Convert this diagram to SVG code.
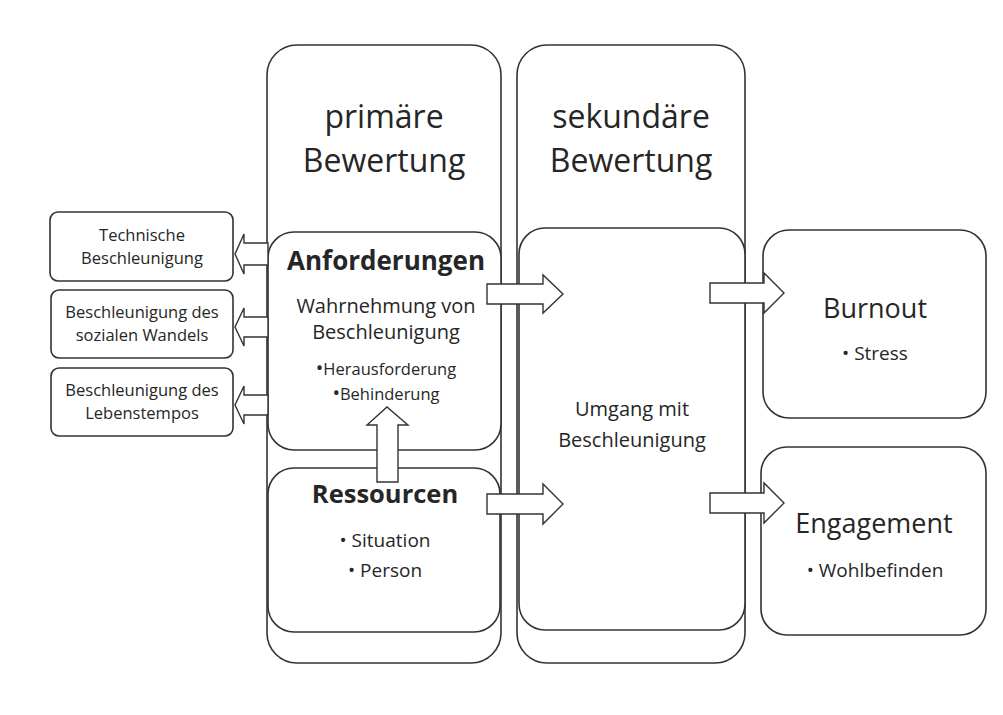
<svg xmlns="http://www.w3.org/2000/svg" width="1003" height="715" viewBox="0 0 1003 715">
<style>
  .box{fill:#ffffff;stroke:#333333;stroke-width:1.6}
  .frame{fill:none;stroke:#333333;stroke-width:1.6}
  .arr{fill:#ffffff;stroke:#333333;stroke-width:1.4;stroke-linejoin:miter}
  text{font-family:"Open Sans","Noto Sans","Liberation Sans",sans-serif;fill:#262626;text-anchor:middle}
  .big{font-size:32px}
  .bold{font-weight:bold}
  .mid{font-size:20px}
  .small{font-size:16.5px}
</style>
<rect width="1003" height="715" fill="#ffffff"/>

<g id="primaere-bewertung">
  <rect class="frame" x="267" y="45" width="234" height="618" rx="30"/>
  <text class="big" x="384" y="128">primäre</text>
  <text class="big" x="384" y="172">Bewertung</text>
</g>
<g id="sekundaere-bewertung">
  <rect class="frame" x="517" y="45" width="228" height="618" rx="30"/>
  <text class="big" x="631" y="128">sekundäre</text>
  <text class="big" x="631" y="172">Bewertung</text>
</g>

<g id="anforderungen">
  <rect class="box" x="268" y="232" width="233" height="218" rx="26"/>
  <text class="bold" style="font-size:26px" x="386" y="270">Anforderungen</text>
  <text class="mid" x="386" y="313">Wahrnehmung von</text>
  <text class="mid" x="386" y="339">Beschleunigung</text>
  <text style="font-size:16.5px" x="386" y="375"><tspan style="font-size:20px">•</tspan>Herausforderung</text>
  <text style="font-size:16.5px" x="386" y="400"><tspan style="font-size:20px">•</tspan>Behinderung</text>
</g>

<g id="ressourcen">
  <rect class="box" x="268" y="468" width="232" height="164" rx="26"/>
  <text class="bold" style="font-size:25.5px" x="385" y="503">Ressourcen</text>
  <text style="font-size:19px" x="385" y="547">• Situation</text>
  <text style="font-size:19px" x="385" y="577">• Person</text>
</g>

<g id="umgang">
  <rect class="box" x="519" y="228" width="226" height="402" rx="26"/>
  <text class="mid" x="632" y="416">Umgang mit</text>
  <text class="mid" x="632" y="447">Beschleunigung</text>
</g>

<g id="burnout">
  <rect class="box" x="763" y="230" width="223" height="188" rx="26"/>
  <text style="font-size:27px" x="875" y="318">Burnout</text>
  <text style="font-size:19px" x="875" y="360">• Stress</text>
</g>

<g id="engagement">
  <rect class="box" x="761" y="447" width="225" height="188" rx="26"/>
  <text style="font-size:27px" x="874" y="533">Engagement</text>
  <text style="font-size:19px" x="875" y="577">• Wohlbefinden</text>
</g>

<g id="technische">
  <rect class="box" x="50" y="212" width="183" height="69" rx="8"/>
  <text class="small" x="142" y="241">Technische</text>
  <text class="small" x="142" y="264">Beschleunigung</text>
</g>
<g id="sozialer-wandel">
  <rect class="box" x="51" y="290" width="182" height="68" rx="8"/>
  <text class="small" x="142" y="318">Beschleunigung des</text>
  <text class="small" x="142" y="341">sozialen Wandels</text>
</g>
<g id="lebenstempo">
  <rect class="box" x="51" y="368" width="182" height="68" rx="8"/>
  <text class="small" x="142" y="396">Beschleunigung des</text>
  <text class="small" x="142" y="419">Lebenstempos</text>
</g>

<g id="connectors">
  <!-- left arrows -->
  <polygon class="arr" points="268,243 244,243 244,234 235,254 244,274 244,265 268,265"/>
  <polygon class="arr" points="268,317 244,317 244,308 235,327 244,346 244,337 268,337"/>
  <polygon class="arr" points="268,395 244,395 244,386 235,405 244,424 244,415 268,415"/>
  <!-- right arrows -->
  <polygon class="arr" points="487,284 543,284 543,275 563,294 543,313 543,304 487,304"/>
  <polygon class="arr" points="487,494 543,494 543,484 563,504 543,524 543,514 487,514"/>
  <polygon class="arr" points="710,283 764,283 764,273 784,293 764,313 764,303 710,303"/>
  <polygon class="arr" points="710,493 764,493 764,483 784,503 764,523 764,513 710,513"/>
  <!-- up arrow -->
  <polygon class="arr" points="377,482 377,425 367,425 387,407 408,425 398,425 398,482"/>
</g>
</svg>
